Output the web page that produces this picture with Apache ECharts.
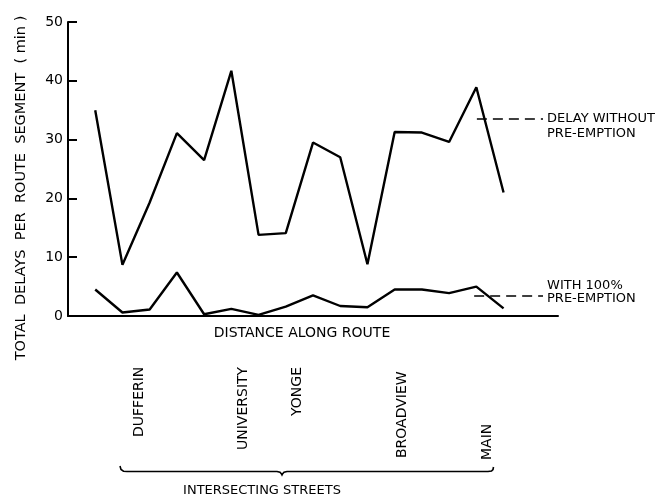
<!DOCTYPE html>
<html>
<head>
<meta charset="utf-8">
<script src="https://cdn.jsdelivr.net/npm/echarts@6/dist/echarts.min.js"></script>
<style>
  html, body { margin: 0; padding: 0; background: #fff; }
  #chart { width: 656px; height: 495px; }
</style>
</head>
<body>
<div id="chart"></div>
<script>
var chart = echarts.init(document.getElementById("chart"));

// route segments, left to right
let segment = [0, 1, 2, 3, 4, 5, 6, 7, 8, 9, 10, 11, 12, 13, 14, 15];
let delayWithout = [35, 8.7, 19.3, 31.1, 26.5, 41.7, 13.8, 14.1, 29.5, 27.0, 8.8, 31.3, 31.2, 29.6, 38.9, 21.0];
let delayWith = [4.5, 0.6, 1.1, 7.4, 0.3, 1.2, 0.2, 1.6, 3.5, 1.7, 1.5, 4.5, 4.5, 3.9, 5.0, 1.3];

// intersecting streets and where they fall along the route
let streets = ["DUFFERIN", "UNIVERSITY", "YONGE", "BROADVIEW", "MAIN"];
let streetDist = [1.63, 5.45, 7.44, 11.27, 14.39];

var ink = "#000";
var font = "DejaVu Sans";

function pairs(ys) {
  return segment.map(function (x, i) { return [x, ys[i]]; });
}

var option = {
  animation: false,
  backgroundColor: "#fff",
  textStyle: { fontFamily: font, color: ink },
  grid: { left: 68, right: 98, top: 22, bottom: 179 },
  xAxis: {
    type: "value",
    min: -1,
    max: 17,
    axisLine: { show: true, onZero: false, lineStyle: { color: ink, width: 2 } },
    axisTick: { show: false },
    axisLabel: { show: false },
    splitLine: { show: false }
  },
  yAxis: {
    type: "value",
    min: 0,
    max: 50,
    interval: 10,
    axisLine: { show: true, onZero: false, lineStyle: { color: ink, width: 2 } },
    axisTick: { show: true, inside: true, length: 9, lineStyle: { color: ink, width: 2 } },
    axisLabel: { margin: 5, fontSize: 14, color: ink, fontFamily: font },
    splitLine: { show: false }
  },
  series: [
    {
      name: "DELAY WITHOUT PRE-EMPTION",
      type: "line",
      data: pairs(delayWithout),
      showSymbol: false,
      lineStyle: { color: ink, width: 2.4 },
      markLine: {
        silent: true,
        symbol: "none",
        label: { show: false },
        lineStyle: { color: ink, width: 1.6, type: [10, 6] },
        data: [[{ coord: [14.02, 33.5] }, { coord: [16.45, 33.5] }]]
      }
    },
    {
      name: "WITH 100% PRE-EMPTION",
      type: "line",
      data: pairs(delayWith),
      showSymbol: false,
      lineStyle: { color: ink, width: 2.4 },
      markLine: {
        silent: true,
        symbol: "none",
        label: { show: false },
        lineStyle: { color: ink, width: 1.6, type: [10, 6] },
        data: [[{ coord: [13.92, 3.45] }, { coord: [16.45, 3.45] }]]
      }
    }
  ]
};
chart.setOption(option);

// texts and the brace below the axis
var gfx = [];
function txt(x, y, s, size, opts) {
  var o = {
    type: "text",
    x: x,
    y: y,
    silent: true,
    style: {
      text: s,
      fill: ink,
      font: size + "px '" + font + "'",
      textAlign: "center",
      textVerticalAlign: "middle"
    }
  };
  if (opts) {
    if (opts.rotation) o.rotation = opts.rotation;
    if (opts.align) o.style.textAlign = opts.align;
    if (opts.valign) o.style.textVerticalAlign = opts.valign;
    if (opts.lineHeight) o.style.lineHeight = opts.lineHeight;
  }
  gfx.push(o);
}

txt(21, 188, "TOTAL  DELAYS  PER  ROUTE  SEGMENT  ( min )", 14.5, { rotation: Math.PI / 2 });
txt(302, 333, "DISTANCE ALONG ROUTE", 14);

var endUp = chart.convertToPixel({ gridIndex: 0 }, [16.45, 33.5]);
var endLo = chart.convertToPixel({ gridIndex: 0 }, [16.45, 3.45]);
txt(endUp[0] + 4, endUp[1] - 8, "DELAY WITHOUT\nPRE-EMPTION", 13, { align: "left", valign: "top", lineHeight: 15 });
txt(endLo[0] + 4, endLo[1] - 17, "WITH 100%\nPRE-EMPTION", 13, { align: "left", valign: "top", lineHeight: 13 });

var labelBase = [437, 450, 416, 458, 460];
streets.forEach(function (name, i) {
  var px = chart.convertToPixel({ gridIndex: 0 }, [streetDist[i], 0]);
  txt(px[0], labelBase[i], name, 14, { rotation: Math.PI / 2, align: "left" });
});

// curly brace grouping the streets
gfx.push({
  type: "polyline",
  silent: true,
  shape: {
    points: [[120, 466], [121, 469.5], [123.5, 471.2], [127, 471.5], [277, 471.5],
             [280, 472.3], [281.5, 474], [282, 475], [282.5, 474], [284, 472.3],
             [287, 471.5], [488, 471.5], [491.5, 471], [493, 469.5], [493.5, 467]]
  },
  style: { fill: null, stroke: ink, lineWidth: 1.6 }
});
txt(262, 491, "INTERSECTING STREETS", 13);

chart.setOption({ graphic: gfx });
</script>
</body>
</html>
